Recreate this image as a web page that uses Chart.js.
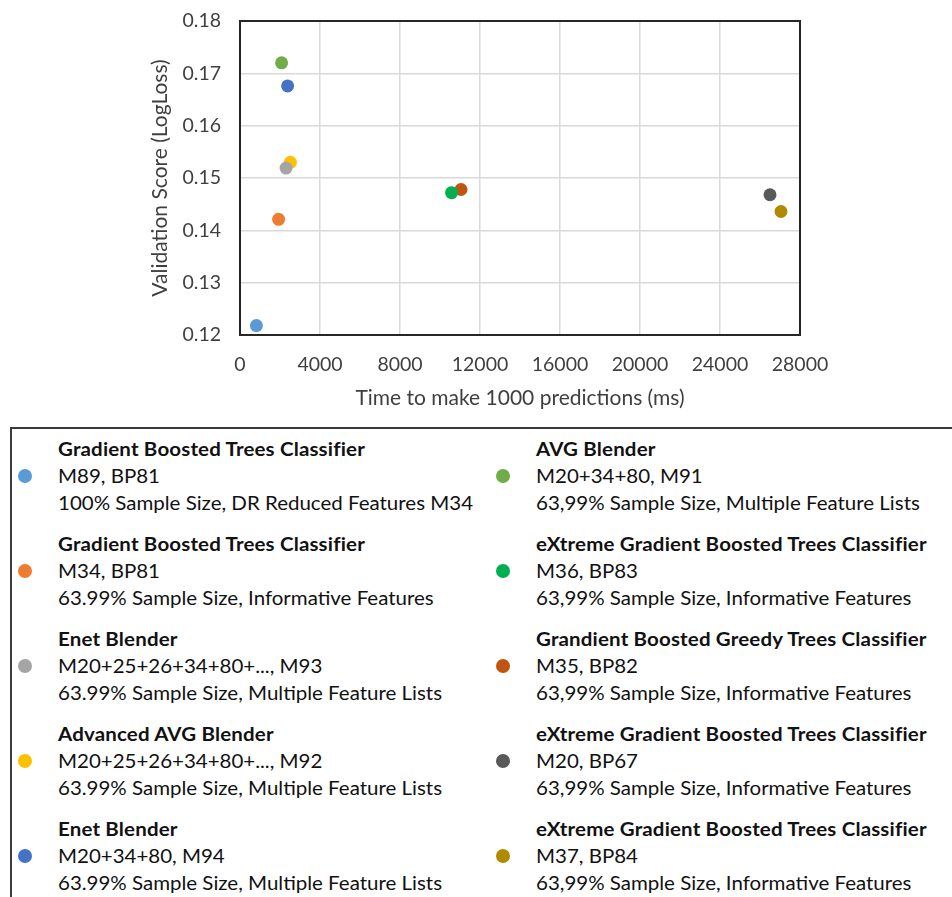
<!DOCTYPE html>
<html><head><meta charset="utf-8">
<script src="https://cdn.jsdelivr.net/npm/chart.js@4"></script>
<style>
html,body{margin:0;padding:0;background:#fff;overflow:hidden;width:952px;height:897px;}
#wrap{position:absolute;left:0;top:0;width:952px;height:420px;}
#legend{position:absolute;left:10px;top:427px;width:980px;height:520px;border:2px solid #3a3a3a;box-sizing:border-box;font-family:Lato,sans-serif;}
.item{position:absolute;font-size:18.5px;color:#111;line-height:27px;white-space:nowrap;transform:scaleX(1.107);transform-origin:0 0;}
.item .t{font-weight:bold;letter-spacing:0.15px}
.dot{position:absolute;width:14px;height:14px;border-radius:50%;}
</style></head>
<body>
<div id="wrap"><canvas id="c" width="952" height="420"></canvas></div>
<div id="legend"></div>
<script>
const titles = [
  "Gradient Boosted Trees Classifier",
  "Gradient Boosted Trees Classifier",
  "Enet Blender",
  "Advanced AVG Blender",
  "Enet Blender",
  "AVG Blender",
  "eXtreme Gradient Boosted Trees Classifier",
  "Grandient Boosted Greedy Trees Classifier",
  "eXtreme Gradient Boosted Trees Classifier",
  "eXtreme Gradient Boosted Trees Classifier"
];
const models = [
  "M89, BP81",
  "M34, BP81",
  "M20+25+26+34+80+..., M93",
  "M20+25+26+34+80+..., M92",
  "M20+34+80, M94",
  "M20+34+80, M91",
  "M36, BP83",
  "M35, BP82",
  "M20, BP67",
  "M37, BP84"
];
const descriptions = [
  "100% Sample Size, DR Reduced Features M34",
  "63.99% Sample Size, Informative Features",
  "63.99% Sample Size, Multiple Feature Lists",
  "63.99% Sample Size, Multiple Feature Lists",
  "63.99% Sample Size, Multiple Feature Lists",
  "63,99% Sample Size, Multiple Feature Lists",
  "63,99% Sample Size, Informative Features",
  "63,99% Sample Size, Informative Features",
  "63,99% Sample Size, Informative Features",
  "63,99% Sample Size, Informative Features"
];
const timeMs = [820, 1930, 2300, 2520, 2380, 2080, 10580, 11050, 26500, 27050];
const logLoss = [0.1218, 0.1421, 0.1519, 0.1530, 0.1676, 0.1720, 0.1472, 0.1478, 0.1468, 0.1436];
const colors = ["#5B9BD5","#ED7D31","#A5A5A5","#FFC000","#4472C4","#70AD47","#00B050","#C05510","#595959","#B08A00"];
const xTicks = [0, 4000, 8000, 12000, 16000, 20000, 24000, 28000];
const yTicks = [0.12, 0.13, 0.14, 0.15, 0.16, 0.17, 0.18];
const xTitle = "Time to make 1000 predictions (ms)";
const yTitle = "Validation Score (LogLoss)";

const datasets = titles.map((t, i) => ({
  label: t + " " + models[i],
  data: [{x: timeMs[i], y: logLoss[i]}],
  backgroundColor: colors[i],
  borderColor: colors[i],
  borderWidth: 0,
  pointRadius: 6.5,
  pointHoverRadius: 6.5
}));

const frame = {
  id: 'frame',
  beforeDatasetsDraw(chart) {
    const a = chart.chartArea, ctx = chart.ctx;
    ctx.save();
    ctx.strokeStyle = '#262626';
    ctx.lineWidth = 2;
    ctx.strokeRect(a.left, a.top, a.right - a.left, a.bottom - a.top);
    ctx.restore();
  }
};

const textColor = '#3f3f3f';
const tickFont = {family: 'Lato', size: 19.5};
const titleFont = {family: 'Lato', size: 21};
new Chart(document.getElementById('c'), {
  type: 'scatter',
  data: {datasets},
  plugins: [frame],
  options: {
    responsive: false,
    animation: false,
    events: [],
    layout: {padding: {left: 148, right: 152, top: 21, bottom: 0}},
    plugins: {legend: {display: false}, tooltip: {enabled: false}},
    scales: {
      x: {
        type: 'linear', min: xTicks[0], max: xTicks[xTicks.length - 1],
        afterBuildTicks: s => { s.ticks = xTicks.map(v => ({value: v})); },
        afterFit: s => { s.height = 85; s.paddingLeft = 0; s.paddingRight = 0; },
        grid: {color: '#D9D9D9', lineWidth: 1.5, drawTicks: false},
        border: {display: false},
        ticks: {font: tickFont, color: textColor, padding: 18, maxRotation: 0, callback: v => String(v)},
        title: {display: true, text: xTitle, font: titleFont, color: textColor, padding: {top: 0, bottom: 9}}
      },
      y: {
        type: 'linear', min: yTicks[0], max: yTicks[yTicks.length - 1],
        afterBuildTicks: s => { s.ticks = yTicks.map(v => ({value: v})); },
        afterFit: s => { s.width = 92; s.paddingTop = 0; s.paddingBottom = 0; },
        grid: {color: '#D9D9D9', lineWidth: 1.5, drawTicks: false},
        border: {display: false},
        ticks: {font: tickFont, color: textColor, padding: 19, callback: v => Number(v).toFixed(2)},
        title: {display: true, text: yTitle, font: titleFont, color: textColor, padding: {top: 0, bottom: 0}}
      }
    }
  }
});

const legend = document.getElementById('legend');
titles.forEach((t, i) => {
  const col = i < 5 ? 0 : 1;
  const row = i % 5;
  const textLeft = col === 0 ? 46 : 524;
  const dotLeft = col === 0 ? 6 : 484;
  const top = 6.5 + row * 95;
  const item = document.createElement('div');
  item.className = 'item';
  item.style.left = textLeft + 'px';
  item.style.top = top + 'px';
  item.innerHTML = '<div class="t"></div><div class="m"></div><div class="d"></div>';
  item.querySelector('.t').textContent = t;
  item.querySelector('.m').textContent = models[i];
  item.querySelector('.d').textContent = descriptions[i];
  legend.appendChild(item);
  const dot = document.createElement('div');
  dot.className = 'dot';
  dot.style.left = dotLeft + 'px';
  dot.style.top = (top + 33.5) + 'px';
  dot.style.background = colors[i];
  legend.appendChild(dot);
});
</script>
</body></html>
